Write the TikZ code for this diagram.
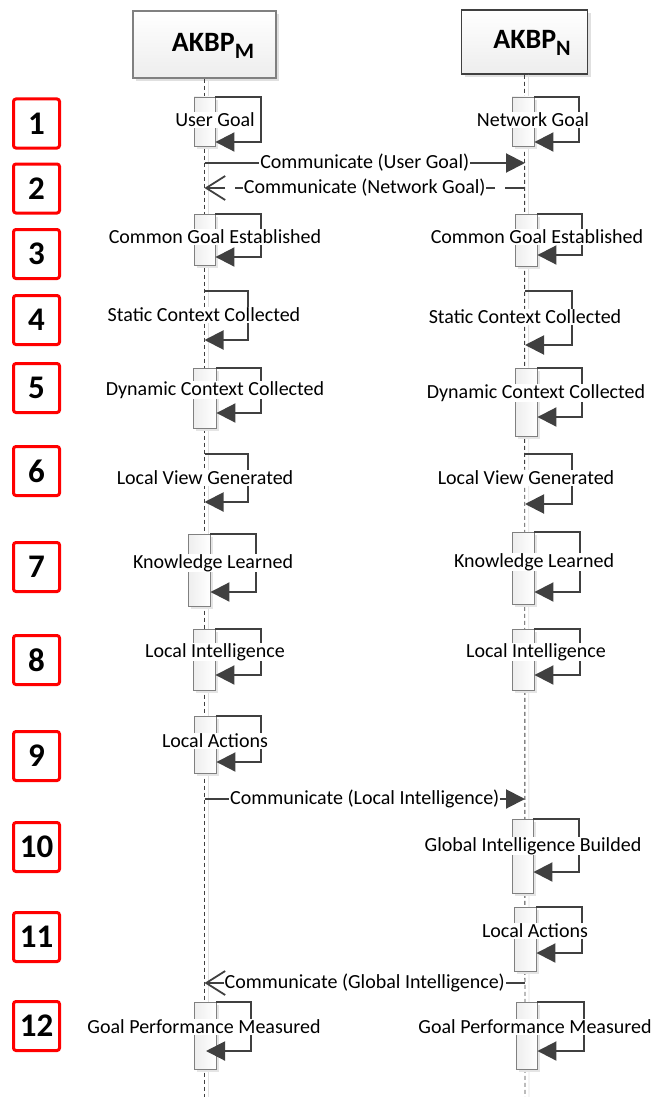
\documentclass[tikz,border=0pt]{standalone}
\usepackage{fontspec}
\setmainfont{Carlito}
\usetikzlibrary{arrows.meta,shadows}

\definecolor{ink}{HTML}{404040}
\definecolor{edge}{HTML}{808080}
\definecolor{stepred}{HTML}{FF0000}

\tikzset{
  headbox/.style={top color=white, bottom color=black!7, inner sep=0pt,
    drop shadow={shadow xshift=3pt, shadow yshift=-3pt, fill=black!12, opacity=1}},
  headtext/.style={inner sep=0pt, font=\fontsize{28}{30}\selectfont\bfseries},
  lifeline/.style={draw=ink, line width=0.9pt, dash pattern=on 4pt off 3pt},
  lifeshade/.style={draw=black!12, line width=0.8pt},
  actbar/.style={draw=edge, line width=0.9pt, left color=black!7, right color=white,
    inner sep=0pt,
    drop shadow={shadow xshift=3pt, shadow yshift=-3pt, fill=black!10, opacity=1}},
  loopline/.style={draw=ink, line width=2pt, -{Triangle[length=19pt,width=19pt]}},
  callmsg/.style={draw=ink, line width=2pt, -{Triangle[length=19pt,width=19pt]}},
  replymsg/.style={draw=ink, line width=1.8pt, -{Straight Barb[length=19pt,width=24pt]}},
  replydash/.style={replymsg, dash pattern=on 20pt off 10pt},
  lbl/.style={fill=white, inner sep=0.8pt, text=black, font=\fontsize{20}{22}\selectfont},
  stepbox/.style={draw=stepred, line width=3pt, rounded corners=2.5pt, fill=white,
    minimum width=46pt, minimum height=49pt, inner sep=0pt,
    font=\fontsize{33}{35}\selectfont\bfseries}
}

% activation bar: name, x1, y1, x2, y2
\newcommand\actbar[5]{%
  \node[actbar, minimum width={(#4-#2)*1pt}, minimum height={(#5-#3)*1pt}]
    (#1) at ({(#2+#4)/2},{(#3+#5)/2}) {};}
% self message: start point, right x, bottom y, corner name
\newcommand\selfloop[4]{%
  \coordinate (#4) at (#2,#3);
  \draw[loopline] (#1) -| (#4) -- (#1 |- #4);}

\begin{document}
\begin{tikzpicture}[x=1pt,y=-1pt]
\useasboundingbox (0,0) rectangle (655,1097);

% participants
\node[headbox, draw=edge, line width=1.2pt, minimum width=143pt, minimum height=67pt]
  (hM) at (204.5,44.5) {};
\node[headbox, draw=ink, line width=1.8pt, minimum width=126pt, minimum height=64pt]
  (hN) at (524.5,42) {};
\node[headtext] (tM) at (213,46) {AKBP\raisebox{-7pt}{\fontsize{22}{23}\selectfont M}};
\node[headtext] (tN) at (532,43) {AKBP\raisebox{-7pt}{\fontsize{22}{23}\selectfont N}};

% lifelines
\coordinate (endM) at (204.5,1097);
\coordinate (endN) at (525,1097);
\draw[lifeshade] ([xshift=4pt]hM.south) -- ([xshift=4pt]endM);
\draw[lifeshade] ([xshift=4pt]hN.south) -- ([xshift=4pt]endN);
\draw[lifeline] (hM.south) -- (endM);
\draw[lifeline] (hN.south) -- (endN);

% step numbers
\foreach \n/\yy in {1/123.5,2/188.5,3/254,4/320,5/388,6/471,7/567,8/660,9/756,10/847,11/937,12/1026}
  \node[stepbox] (n\n) at (36.5,\yy) {\n};

% activation bars
\actbar{aM1}{194}{97}{215}{146}
\actbar{aN1}{512}{97}{534}{146}
\actbar{aM3}{194}{214}{215}{265}
\actbar{aN3}{515}{214}{537}{266}
\actbar{aM5}{193}{368}{216}{428}
\actbar{aN5}{515}{368}{537}{436}
\actbar{aM7}{188}{534}{210}{606}
\actbar{aN7}{512}{532}{534}{604}
\actbar{aM8}{193}{629}{215}{690}
\actbar{aN8}{512}{629}{534}{690}
\actbar{aM9}{194}{716}{216}{773}
\actbar{aN10}{512}{819}{533}{893}
\actbar{aN11}{514}{907}{536}{971}
\actbar{aM12}{194}{1002}{216}{1069}
\actbar{aN12}{516}{1002}{537}{1069}

% lifeline points for self messages without a bar
\coordinate (sM4) at (204.5,291);
\coordinate (sN4) at (525,291);
\coordinate (sM6) at (204.5,454);
\coordinate (sN6) at (525,454);

% self messages
\selfloop{aM1.north east}{261}{142}{cM1}
\selfloop{aN1.north east}{579}{142}{cN1}
\selfloop{aM3.north east}{261}{257}{cM3}
\selfloop{aN3.north east}{582}{255}{cN3}
\selfloop{sM4}{248}{340}{cM4}
\selfloop{sN4}{572}{345}{cN4}
\selfloop{aM5.north east}{261}{413}{cM5}
\selfloop{aN5.north east}{582}{417}{cN5}
\selfloop{sM6}{248}{502}{cM6}
\selfloop{sN6}{572}{504}{cN6}
\selfloop{aM7.north east}{256}{592}{cM7}
\selfloop{aN7.north east}{580}{592}{cN7}
\selfloop{aM8.north east}{261}{675}{cM8}
\selfloop{aN8.north east}{580}{675}{cN8}
\selfloop{aM9.north east}{261}{762}{cM9}
\selfloop{aN10.north east}{579}{872}{cN10}
\selfloop{aN11.north east}{582}{953}{cN11}
\coordinate (cM12) at (251,1051);
\coordinate (eM12) at (206,1051);
\draw[loopline] (aM12.north east) -| (cM12) -- (eM12);
\selfloop{aN12.north east}{584}{1051}{cN12}

% self message texts
\node[lbl] (lM1) at (215,120) {User Goal};
\node[lbl] (lN1) at (533,120) {Network Goal};
\node[lbl] (lM3) at (215,237) {Common Goal Established};
\node[lbl] (lN3) at (537,237) {Common Goal Established};
\node[lbl] (lM4) at (204,315) {Static Context Collected};
\node[lbl] (lN4) at (525,317) {Static Context Collected};
\node[lbl] (lM5) at (215,390) {Dynamic Context Collected};
\node[lbl] (lN5) at (536,393) {Dynamic Context Collected};
\node[lbl] (lM6) at (205,478) {Local View Generated};
\node[lbl] (lN6) at (526,478) {Local View Generated};
\node[lbl] (lM7) at (213,563) {Knowledge Learned};
\node[lbl] (lN7) at (534,562) {Knowledge Learned};
\node[lbl] (lM8) at (215,652) {Local Intelligence};
\node[lbl] (lN8) at (536,652) {Local Intelligence};
\node[lbl] (lM9) at (215,741) {Local Actions};
\node[lbl] (lN10) at (533,846) {Global Intelligence Builded};
\node[lbl] (lN11) at (535,931) {Local Actions};
\node[lbl] (lM12) at (204,1027) {Goal Performance Measured};
\node[lbl] (lN12) at (535,1027) {Goal Performance Measured};

% messages between the two participants
\coordinate (mM1) at (204.5,163);  \coordinate (mN1) at (525,163);
\coordinate (mM2) at (204.5,188);  \coordinate (mN2) at (525,188);
\coordinate (mM3) at (204.5,799);  \coordinate (mN3) at (525,799);
\coordinate (mM4) at (204.5,983);  \coordinate (mN4) at (525,983);
\draw[callmsg] (mM1) -- node[lbl] (g1) {Communicate (User Goal)} (mN1);
\draw[replydash] (mN2) -- node[lbl] (g2) {Communicate (Network Goal)} (mM2);
\draw[callmsg] (mM3) -- node[lbl] (g3) {Communicate (Local Intelligence)} (mN3);
\draw[replymsg] (mN4) -- node[lbl] (g4) {Communicate (Global Intelligence)} (mM4);
\end{tikzpicture}
\end{document}
